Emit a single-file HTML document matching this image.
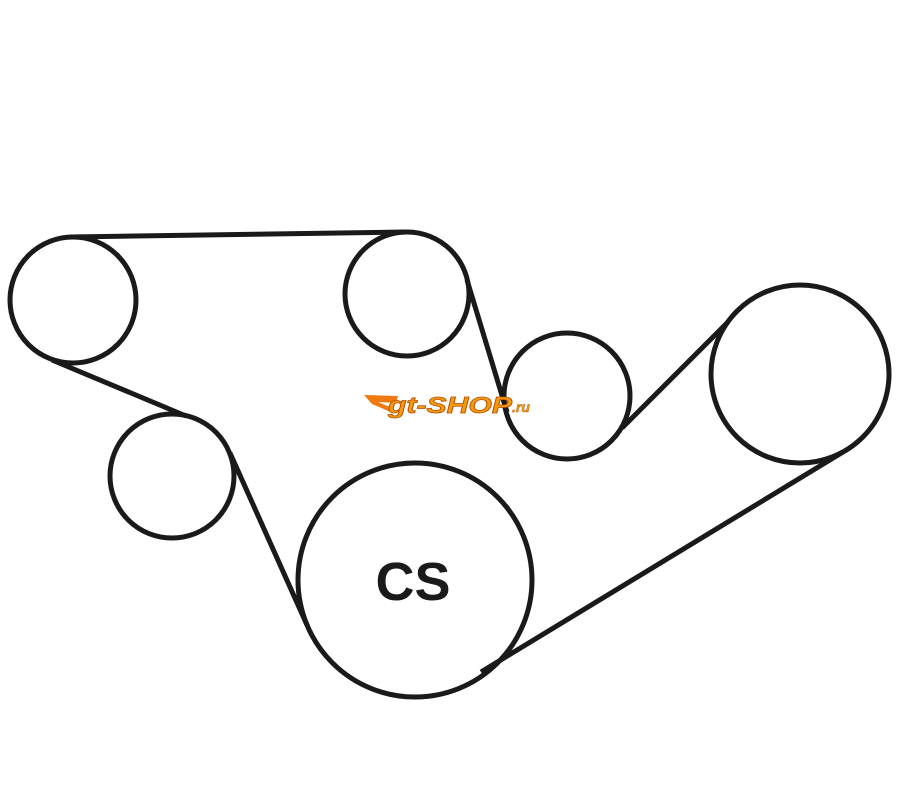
<!DOCTYPE html>
<html><head><meta charset="utf-8"><style>
html,body{margin:0;padding:0;background:#fff;width:900px;height:810px;overflow:hidden}
</style></head><body>
<svg width="900" height="810" viewBox="0 0 900 810" xmlns="http://www.w3.org/2000/svg">
<g fill="none" stroke="#1a1a1a" stroke-width="5">
<circle cx="73" cy="300" r="63"/>
<circle cx="407" cy="294" r="62"/>
<circle cx="567" cy="396" r="63"/>
<circle cx="800" cy="374" r="89"/>
<circle cx="172" cy="476" r="62"/>
<circle cx="415" cy="580" r="117"/>
<line x1="70" y1="237" x2="405" y2="232"/>
<line x1="467" y1="280" x2="507" y2="412"/>
<line x1="622" y1="428" x2="728" y2="322"/>
<line x1="843" y1="452" x2="481" y2="672"/>
<line x1="230" y1="453" x2="307" y2="625"/>
<line x1="52" y1="360" x2="186" y2="416"/>
</g>
<text x="413" y="600" text-anchor="middle" font-family="Liberation Sans, sans-serif" font-weight="bold" font-size="54" fill="#1a1a1a">CS</text>
<g>
<path d="M364 395 L398 396 L396 403 L378 402 L392 408 L393 413 L372 404 Z" fill="#f07a10"/>
<text x="388" y="413" font-family="Liberation Sans, sans-serif" font-weight="900" font-style="italic" font-size="23" fill="#f49a10" stroke="#b85000" stroke-width="0.8" textLength="124" lengthAdjust="spacingAndGlyphs">gt-SHOP</text>
<text x="512" y="412" font-family="Liberation Sans, sans-serif" font-weight="bold" font-style="italic" font-size="14" fill="#f49a10" stroke="#b85000" stroke-width="0.4">.ru</text>
</g>
</svg>
</body></html>
